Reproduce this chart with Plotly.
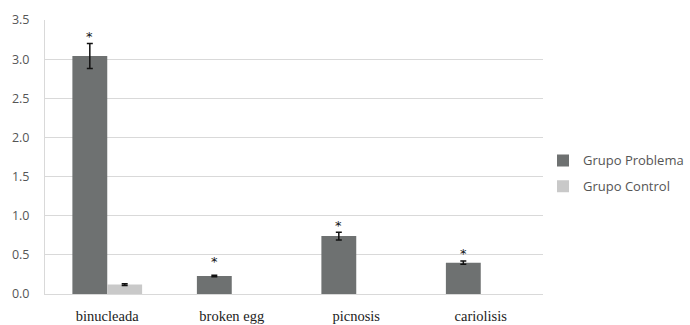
import plotly.graph_objects as go

categories = ["binucleada", "broken egg", "picnosis", "cariolisis"]
problema = [3.04, 0.23, 0.74, 0.40]
problema_err = [0.16, 0.01, 0.05, 0.02]
control = [0.12, None, None, None]
control_err = [0.01, None, None, None]
star_y = [3.29, 0.41, 0.88, 0.52]

fig = go.Figure()
fig.add_trace(go.Bar(
    x=categories, y=problema, name="Grupo Problema", legendgroup="p",
    marker=dict(color="#6e7171", line=dict(width=0)),
    error_y=dict(type="data", array=problema_err, color="#111111", thickness=1.5, width=3),
))
fig.add_trace(go.Bar(
    x=categories, y=control, name="Grupo Control", legendgroup="c",
    marker=dict(color="#c9c9c9", line=dict(width=0)),
    error_y=dict(type="data", array=control_err, color="#111111", thickness=1.5, width=3),
))

for c, sy in zip(categories, star_y):
    fig.add_annotation(x=c, y=sy, xref="x", yref="y", text="*", showarrow=False,
                       xshift=-17.5, font=dict(size=13, color="#111111", family="DejaVu Sans"))

fig.update_layout(
    width=690, height=325,
    margin=dict(l=45, r=147, t=20, b=31, autoexpand=False),
    paper_bgcolor="white", plot_bgcolor="white",
    barmode="group", bargap=0.44, bargroupgap=0,
    showlegend=True,
    legend=dict(x=1.0, y=0.44, xanchor="left", yanchor="middle",
                font=dict(family="Open Sans", size=13, color="#555555"),
                itemwidth=30, tracegroupgap=6, bgcolor="rgba(0,0,0,0)"),
)
fig.update_yaxes(range=[0, 3.5], dtick=0.5, tickformat=".1f",
                 showgrid=True, gridcolor="#d9d9d9", gridwidth=1,
                 showline=True, linecolor="#d9d9d9", linewidth=1,
                 zeroline=False, ticks="", ticklen=0, automargin=False,
                 ticklabelstandoff=12,
                 tickfont=dict(family="Open Sans", size=12.5, color="#555555"))
fig.update_xaxes(showgrid=False, showline=True, linecolor="#d9d9d9", linewidth=1,
                 ticks="", automargin=False, ticklabelstandoff=9,
                 tickfont=dict(family="Liberation Serif", size=14.5, color="#222222"))

fig.write_html("out.html", config={"displayModeBar": False},
               post_script="document.body.style.margin='0';")
